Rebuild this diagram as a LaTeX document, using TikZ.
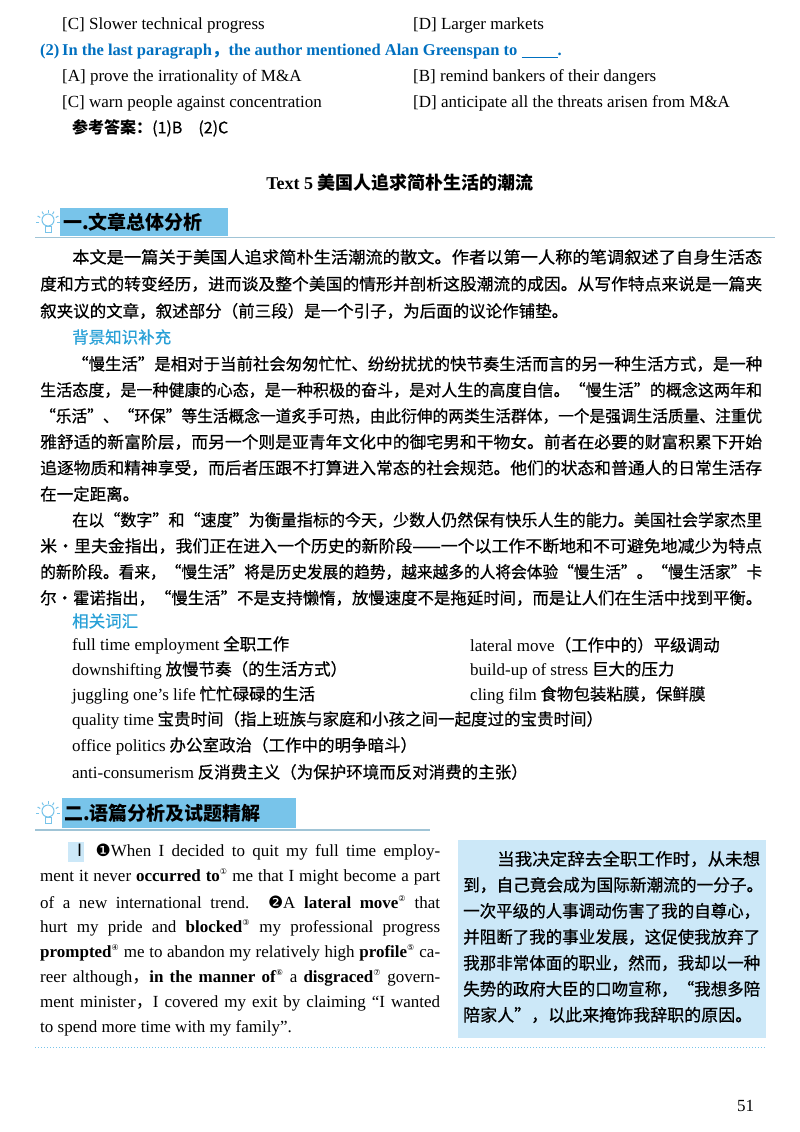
\documentclass[tikz,border=0pt]{standalone}
\usepackage{fontspec}
\usepackage{graphicx}
\setmainfont{Liberation Serif}
\newfontfamily\zh{Noto Sans CJK SC}
\newfontfamily\zhm{Noto Sans CJK SC}[FakeBold=0.6]
\newfontfamily\djv{DejaVu Sans}
\definecolor{qblue}{RGB}{0,112,192}
\definecolor{hblue}{RGB}{120,196,234}
\definecolor{lblue}{RGB}{204,232,248}
\definecolor{tblue}{RGB}{40,160,215}
\newcounter{tn}
\newcommand\J[4]{\stepcounter{tn}\node[txt] (t\thetn) at (#1,#2) {\makebox[#3][s]{#4}};}
\newcommand\Z[4]{\stepcounter{tn}\node[txt] (t\thetn) at (#1,#2) {\resizebox{#3}{\height}{#4}};}
\newcommand\T[3]{\stepcounter{tn}\node[txt] (t\thetn) at (#1,#2) {#3};}
\newcommand\ci[1]{\textsuperscript{\djv\footnotesize #1}}
\newcommand\en{\rmfamily\fontsize{17}{20}\selectfont}
\begin{document}
\begin{tikzpicture}[x=1pt,y=-1pt,txt/.style={anchor=west,inner sep=0pt}]
\useasboundingbox (0,0) rectangle (800,1132);
\fill[white] (0,0) rectangle (800,1132);
\en
% top options
\T{62}{25}{[C] Slower technical progress}
\T{413}{25}{[D] Larger markets}
\T{40}{52}{\fontsize{16.5}{20}\selectfont\color{qblue}\bfseries (2)\,In the last paragraph{\zh ，}the author mentioned Alan Greenspan to \underline{\hspace{36pt}}.}
\T{62}{77}{[A] prove the irrationality of M\&A}
\T{413}{77}{[B] remind bankers of their dangers}
\T{62}{103}{[C] warn people against concentration}
\T{413}{103}{[D] anticipate all the threats arisen from M\&A}
\T{72}{128}{{\zh\bfseries\fontsize{16}{20}\selectfont 参考答案：}{\zhm\fontsize{16}{20}\selectfont (1)B\quad(2)C}}
% title
\stepcounter{tn}\node[inner sep=0] (title) at (400,183) {\fontsize{18}{20}\selectfont\bfseries Text 5 {\zh 美国人追求简朴生活的潮流}};
% header 1
\fill[hblue] (60,208) rectangle (228,236);
\draw[hblue!80!black!60,line width=1.2pt] (35,237.5) -- (775,237.5);
\node[txt] (h1) at (63,222) {\zh\bfseries\fontsize{19}{22}\selectfont 一.文章总体分析};
\begin{scope}[shift={(48,222)},hblue,line width=1pt]
\draw (0,-2) circle (6); \draw (-3,4) rectangle (3,10);
\foreach \a in {0,30,...,180}{\draw (\a+180:9) -- (\a+180:12);}
\end{scope}
% para 1
\zhm\fontsize{16.5}{20}\selectfont
\Z{72}{257}{690pt}{本文是一篇关于美国人追求简朴生活潮流的散文。作者以第一人称的笔调叙述了自身生活态}
\Z{40}{284}{722pt}{度和方式的转变经历，进而谈及整个美国的情形并剖析这股潮流的成因。从写作特点来说是一篇夹}
\T{40}{311}{叙夹议的文章，叙述部分（前三段）是一个引子，为后面的议论作铺垫。}
\T{72}{337}{\color{tblue}背景知识补充}
\Z{72}{364}{690pt}{“慢生活”是相对于当前社会匆匆忙忙、纷纷扰扰的快节奏生活而言的另一种生活方式，是一种}
\Z{40}{390}{722pt}{生活态度，是一种健康的心态，是一种积极的奋斗，是对人生的高度自信。“慢生活”的概念这两年和}
\Z{40}{416}{722pt}{“乐活”、“环保”等生活概念一道炙手可热，由此衍伸的两类生活群体，一个是强调生活质量、注重优}
\Z{40}{442}{722pt}{雅舒适的新富阶层，而另一个则是亚青年文化中的御宅男和干物女。前者在必要的财富积累下开始}
\Z{40}{468}{722pt}{追逐物质和精神享受，而后者压跟不打算进入常态的社会规范。他们的状态和普通人的日常生活存}
\T{40}{494}{在一定距离。}
\Z{72}{520}{690pt}{在以“数字”和“速度”为衡量指标的今天，少数人仍然保有快乐人生的能力。美国社会学家杰里}
\Z{40}{546}{722pt}{米·里夫金指出，我们正在进入一个历史的新阶段——一个以工作不断地和不可避免地减少为特点}
\Z{40}{572}{722pt}{的新阶段。看来，“慢生活”将是历史发展的趋势，越来越多的人将会体验“慢生活”。“慢生活家”卡}
\Z{40}{598}{722pt}{尔·霍诺指出，“慢生活”不是支持懒惰，放慢速度不是拖延时间，而是让人们在生活中找到平衡。}
\T{72}{621}{\color{tblue}相关词汇}
\T{72}{645}{{\en full time employment} 全职工作}
\T{470}{645}{{\en lateral move}（工作中的）平级调动}
\T{72}{670}{{\en downshifting} 放慢节奏（的生活方式）}
\T{470}{670}{{\en build-up of stress} 巨大的压力}
\T{72}{695}{{\en juggling one’s life} 忙忙碌碌的生活}
\T{470}{695}{{\en cling film} 食物包装粘膜，保鲜膜}
\T{72}{720}{{\en quality time} 宝贵时间（指上班族与家庭和小孩之间一起度过的宝贵时间）}
\T{72}{746}{{\en office politics} 办公室政治（工作中的明争暗斗）}
\T{72}{772}{{\en anti-consumerism} 反消费主义（为保护环境而反对消费的主张）}
% header 2
\fill[hblue] (62,798) rectangle (296,828);
\draw[hblue!80!black!60,line width=1.2pt] (35,830) -- (430,830);
\node[txt] (h2) at (64,813) {\zh\bfseries\fontsize{19}{22}\selectfont 二.语篇分析及试题精解};
\begin{scope}[shift={(48,813)},hblue,line width=1pt]
\draw (0,-2) circle (6); \draw (-3,4) rectangle (3,10);
\foreach \a in {0,30,...,180}{\draw (\a+180:9) -- (\a+180:12);}
\end{scope}
% English paragraph
\en
\fill[lblue] (68,842) rectangle (84,862);
\J{71}{852}{369pt}{{\zh Ⅰ} {\djv ❶}When I decided to quit my full time employ-}
\J{40}{877}{400pt}{ment it never \textbf{occurred to}\ci{①} me that I might become a part}
\J{40}{902}{400pt}{of a new international trend. {\djv ❷}A \textbf{lateral move}\ci{②} that}
\J{40}{928}{400pt}{hurt my pride and \textbf{blocked}\ci{③} my professional progress}
\J{40}{953}{400pt}{\textbf{prompted}\ci{④} me to abandon my relatively high \textbf{profile}\ci{⑤} ca-}
\J{40}{978}{400pt}{reer although{\zh ，}\textbf{in the manner of}\ci{⑥} a \textbf{disgraced}\ci{⑦} govern-}
\J{40}{1003}{400pt}{ment minister{\zh ，}I covered my exit by claiming “I wanted}
\T{40}{1028}{to spend more time with my family”.}
% right box
\fill[lblue] (458,840) rectangle (766,1038);
\zhm\fontsize{17}{20}\selectfont
\Z{497}{859}{263pt}{当我决定辞去全职工作时，从未想}
\Z{463}{885}{300pt}{到，自己竟会成为国际新潮流的一分子。}
\Z{463}{911}{297pt}{一次平级的人事调动伤害了我的自尊心，}
\Z{463}{937}{297pt}{并阻断了我的事业发展，这促使我放弃了}
\Z{463}{963}{297pt}{我那非常体面的职业，然而，我却以一种}
\Z{463}{989}{297pt}{失势的政府大臣的口吻宣称，“我想多陪}
\T{463}{1015}{陪家人”，以此来掩饰我辞职的原因。}
\draw[hblue,line width=1pt,dotted] (35,1047) -- (765,1047);
\node[txt] (pg) at (737,1106) {\en 51};
\end{tikzpicture}
\end{document}
